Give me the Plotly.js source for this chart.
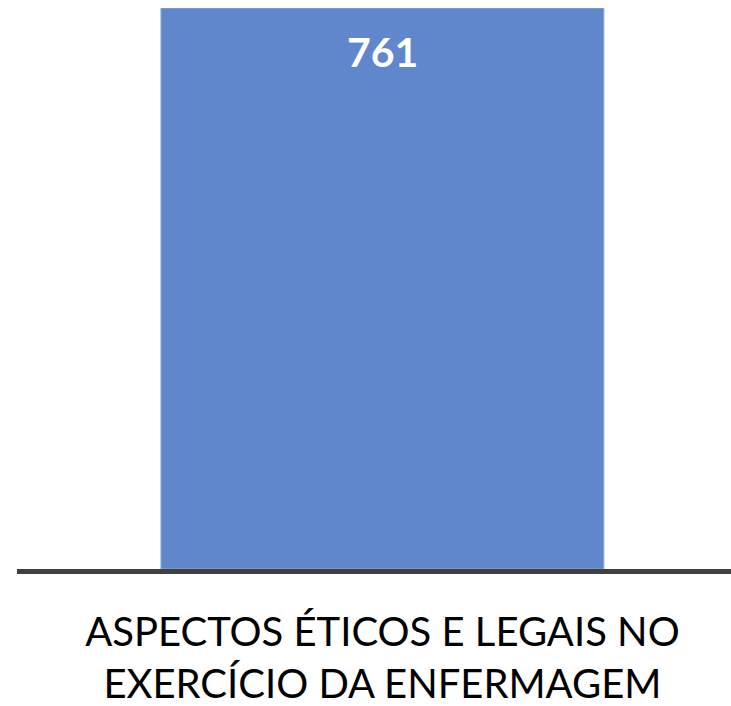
<!DOCTYPE html>
<html>
<head>
<meta charset="utf-8">
<script src="https://cdn.plot.ly/plotly-3.0.1.min.js"></script>
<style>html,body{margin:0;padding:0;background:#fff;}#chart{width:731px;height:706px;}</style>
</head>
<body>
<div id="chart"></div>
<script>
const categories = ["ASPECTOS ÉTICOS E LEGAIS NO<br>EXERCÍCIO DA ENFERMAGEM"];
const values = [761];
const valueLabels = ["761"];
const positions = [0];

const trace = {
  type: "bar",
  x: positions,
  y: values,
  width: 1,
  marker: {color: "#6086CC", line: {color: "#8FA9DA", width: 1}},
  hoverinfo: "none"
};

const layout = {
  width: 731, height: 706,
  margin: {l: 17, r: 0, t: 8, b: 137, pad: 0},
  paper_bgcolor: "#ffffff", plot_bgcolor: "#ffffff",
  showlegend: false,
  xaxis: {
    range: [-0.825, 0.787],
    tickvals: positions, ticktext: categories,
    showline: true, linecolor: "#404040", linewidth: 5,
    showgrid: false, zeroline: false,
    ticks: "outside", ticklen: 24, tickcolor: "rgba(0,0,0,0)",
    tickfont: {family: "Lato, 'Open Sans', sans-serif", size: 40, color: "#000000"}
  },
  yaxis: {
    range: [0, 761], visible: false, fixedrange: true
  },
  annotations: values.map((v, i) => ({
    x: positions[i], y: v, xref: "x", yref: "y",
    text: "<b>" + valueLabels[i] + "</b>",
    showarrow: false, yanchor: "top", yshift: -17,
    font: {family: "Lato, 'Open Sans', sans-serif", size: 41, color: "#ffffff"}
  }))
};

Plotly.newPlot("chart", [trace], layout, {staticPlot: true, displayModeBar: false});
</script>
</body>
</html>
